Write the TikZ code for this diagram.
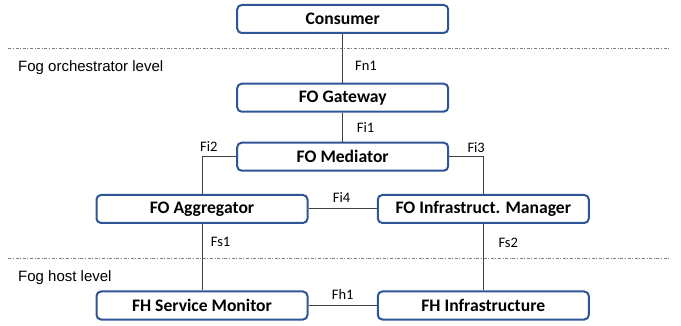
\documentclass[tikz,border=0pt]{standalone}
\usepackage{fontspec}
\setmainfont{Carlito}
\newfontfamily\arialf{Liberation Sans}
\definecolor{boxblue}{HTML}{2F5597}
\definecolor{linegray}{HTML}{404040}
\definecolor{dashgray}{HTML}{7F7F7F}
\tikzset{
  fbox/.style={draw=boxblue, line width=2pt, rounded corners=4.5pt, fill=white,
    minimum width=211pt, minimum height=28pt, inner sep=0pt,
    font=\fontsize{17.6}{20}\selectfont\bfseries},
  conn/.style={draw=linegray, line width=1pt},
  lvl/.style={draw=dashgray, line width=1pt, dash pattern=on 3pt off 1.6pt on 1pt off 1.6pt},
  ilabel/.style={anchor=base west, inner sep=0pt, font=\fontsize{14.5}{16}\selectfont},
  levellabel/.style={anchor=base west, inner sep=0pt, font=\arialf\fontsize{15}{17}\selectfont}
}
\begin{document}
\begin{tikzpicture}[x=1pt,y=-1pt]
\useasboundingbox (0,0) rectangle (681,326);
% level separators
\coordinate (d1a) at (8.3,48.3);
\coordinate (d1b) at (670,48.3);
\coordinate (d2a) at (8.3,258.3);
\coordinate (d2b) at (670,258.3);
\draw[lvl] (d1a) -- (d1b);
\draw[lvl] (d2a) -- (d2b);
% boxes
\node[fbox] (cons) at (342.7,19) {Consumer};
\node[fbox] (gw) at (342.7,97.7) {FO Gateway};
\node[fbox] (med) at (342.7,156.7) {FO Mediator};
\node[fbox] (agg) at (202,209) {FO Aggregator};
\node[fbox] (ifm) at (483.3,209) {FO Infrastruct. Manager};
\node[fbox] (fhsm) at (202,305.5) {FH Service Monitor};
\node[fbox] (fhi) at (483.3,305.5) {FH Infrastructure};
% connectors
\draw[conn] (cons) -- (gw);
\draw[conn] (gw) -- (med);
\draw[conn] (med.west) -| (agg.north);
\draw[conn] (med.east) -| (ifm.north);
\draw[conn] (agg) -- (ifm);
\draw[conn] (agg) -- (fhsm);
\draw[conn] (ifm) -- (fhi);
\draw[conn] (fhsm) -- (fhi);
% interface labels
\node[ilabel] (lfn1) at (355,70.7) {Fn1};
\node[ilabel] (lfi1) at (356.7,132.7) {Fi1};
\node[ilabel] (lfi2) at (200,151.7) {Fi2};
\node[ilabel] (lfi3) at (467.3,152.3) {Fi3};
\node[ilabel] (lfi4) at (332.7,202.7) {Fi4};
\node[ilabel] (lfs1) at (210.7,246.7) {Fs1};
\node[ilabel] (lfs2) at (498.3,247.3) {Fs2};
\node[ilabel] (lfh1) at (331.7,300) {Fh1};
% level labels
\node[levellabel] (lorch) at (18,72) {Fog orchestrator level};
\node[levellabel] (lhost) at (18,281) {Fog host level};
\end{tikzpicture}
\end{document}
